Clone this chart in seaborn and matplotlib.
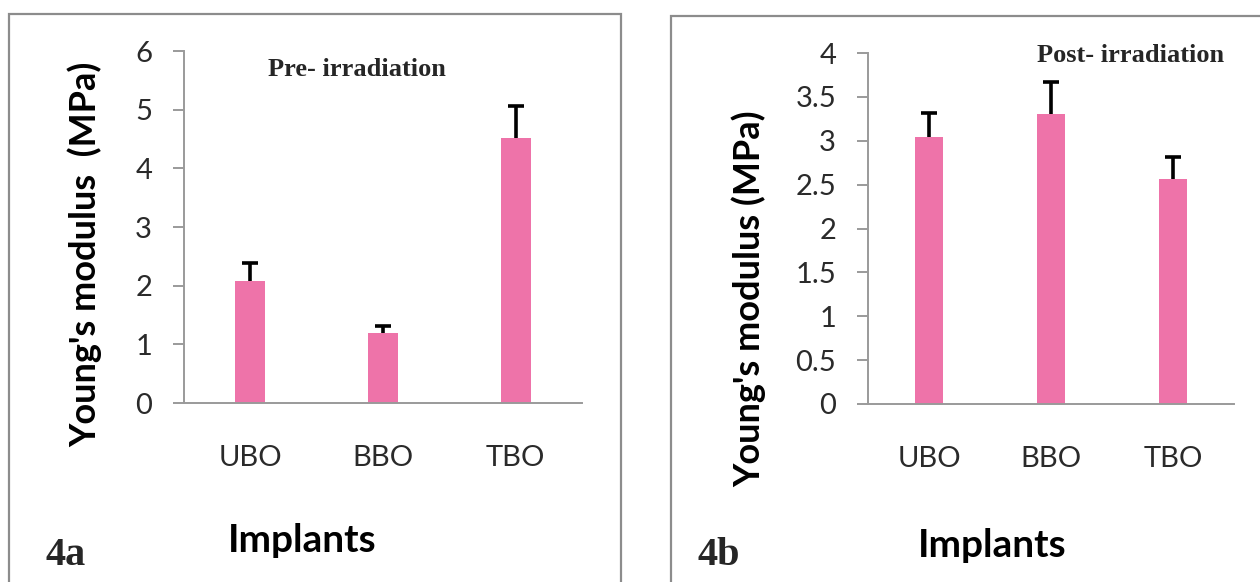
import matplotlib
matplotlib.use("Agg")
import matplotlib.pyplot as plt
import seaborn as sns
import numpy as np
import pandas as pd
from matplotlib.patches import Rectangle

# ---- data ----
categories = ["UBO", "BBO", "TBO"]
pre_values = [2.08, 1.19, 4.52]
pre_errors = [0.31, 0.12, 0.54]
post_values = [3.04, 3.31, 2.56]
post_errors = [0.28, 0.36, 0.25]
pre_yticks = [0, 1, 2, 3, 4, 5, 6]
post_yticks = [0, 0.5, 1, 1.5, 2, 2.5, 3, 3.5, 4]
post_yticklabels = ["0", "0.5", "1", "1.5", "2", "2.5", "3", "3.5", "4"]

sns.set_theme(style="white")
plt.rcParams["font.family"] = ["Lato", "DejaVu Sans"]

BAR = "#EE73A9"
SPINE = "#9A9A9A"
W, H = 1260, 582
fig = plt.figure(figsize=(12.6, 5.82), dpi=100)


def fx(px):
    return px / W


def fy(py):
    return 1 - py / H


# panel borders
fig.patches.append(Rectangle((fx(9), fy(590)), fx(621 - 9), fy(14) - fy(590),
                             transform=fig.transFigure, fill=False,
                             edgecolor="#8C8C8C", linewidth=1.6))
fig.patches.append(Rectangle((fx(671), fy(590)), fx(1275 - 671), fy(16) - fy(590),
                             transform=fig.transFigure, fill=False,
                             edgecolor="#8C8C8C", linewidth=1.6))


def panel(rect, values, errors, ylim, yticks, yticklabels, width):
    ax = fig.add_axes(rect)
    df = pd.DataFrame({"Implant": categories, "Value": values})
    sns.barplot(data=df, x="Implant", y="Value", color=BAR, width=width,
                errorbar=None, ax=ax, saturation=1, linewidth=0)
    x = np.arange(len(categories))
    eb = ax.errorbar(x, values, yerr=[np.zeros(len(values)), errors], fmt="none",
                     ecolor="black", elinewidth=2.6, capsize=6, capthick=2.6,
                     zorder=5)
    caps = eb[1]
    if len(caps) >= 2:
        caps[0].set_visible(False)  # keep only the upper cap
    ax.set_xlim(-0.5, len(categories) - 0.5)
    ax.set_ylim(*ylim)
    ax.set_yticks(yticks)
    ax.set_yticklabels(yticklabels)
    ax.set_xlabel("")
    ax.set_ylabel("")
    for s in ["top", "right"]:
        ax.spines[s].set_visible(False)
    for s in ["left", "bottom"]:
        ax.spines[s].set_color(SPINE)
        ax.spines[s].set_linewidth(1.4)
    ax.tick_params(axis="y", which="major", left=True, length=8, width=1.4,
                   color=SPINE, pad=15, labelsize=21, labelcolor="#2a2a2a")
    ax.tick_params(axis="x", which="major", bottom=False, length=0, pad=30,
                   labelsize=21, labelcolor="#2a2a2a")
    ax.set_facecolor("white")
    ax.grid(False)
    return ax


ax1 = panel([fx(184), fy(403), fx(582 - 184), fy(51) - fy(403)],
            pre_values, pre_errors, (0, 6), pre_yticks,
            [str(t) for t in pre_yticks], 0.226)
ax2 = panel([fx(868), fy(404), fx(1234 - 868), fy(53) - fy(404)],
            post_values, post_errors, (0, 4), post_yticks,
            post_yticklabels, 0.23)

# y labels
fig.text(fx(85), fy(254), "Young's modulus  (MPa)", rotation=90, ha="center",
         va="center", fontsize=26, fontweight="bold", color="black")
fig.text(fx(749), fy(299), "Young's modulus (MPa)", rotation=90, ha="center",
         va="center", fontsize=26, fontweight="bold", color="black")

# x labels
fig.text(fx(302), fy(552), "Implants", ha="center", va="baseline",
         fontsize=28, fontweight="bold", color="black")
fig.text(fx(992), fy(557), "Implants", ha="center", va="baseline",
         fontsize=28, fontweight="bold", color="black")

# panel titles
fig.text(fx(268), fy(76), "Pre- irradiation", ha="left", va="baseline",
         fontsize=19, fontweight="bold", family=["Liberation Serif", "DejaVu Serif"])
fig.text(fx(1037), fy(62), "Post- irradiation", ha="left", va="baseline",
         fontsize=19, fontweight="bold", family=["Liberation Serif", "DejaVu Serif"])

# panel tags
fig.text(fx(45), fy(565), "4a", ha="left", va="baseline",
         fontsize=29, fontweight="bold", family=["Liberation Serif", "DejaVu Serif"])
fig.text(fx(697), fy(565), "4b", ha="left", va="baseline",
         fontsize=29, fontweight="bold", family=["Liberation Serif", "DejaVu Serif"])

fig.savefig("out.png", dpi=100, facecolor="white")
